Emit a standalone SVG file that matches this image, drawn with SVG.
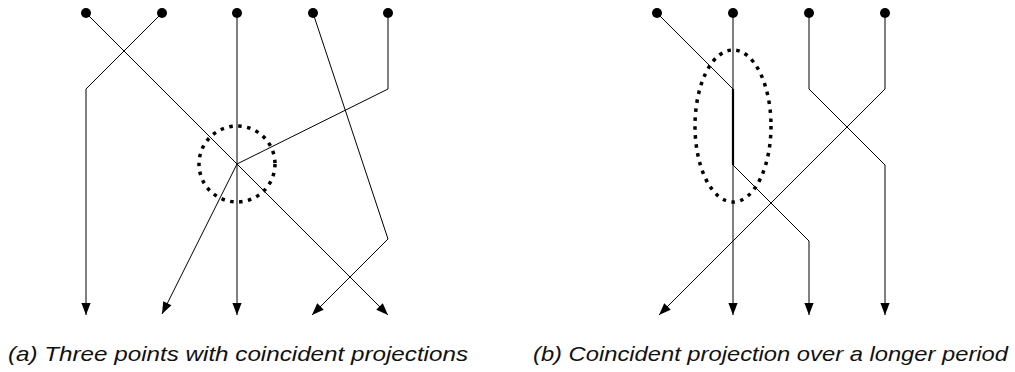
<svg xmlns="http://www.w3.org/2000/svg" width="1015" height="372" viewBox="0 0 1015 372">
  <style>
    .dot { fill: #000; }
    .edge { fill: none; stroke: #000; stroke-width: 1; marker-end: url(#arrow); }
    .shared { fill: none; stroke: #000; stroke-width: 2.2; }
    .hl { fill: none; stroke: #000; stroke-width: 3.5; stroke-dasharray: 3.5 5.5; }
    .cap { font-family: "Liberation Sans", "DejaVu Sans", sans-serif; font-style: italic; font-size: 21px; fill: #111; }
  </style>
  <defs>
    <marker id="arrow" markerUnits="userSpaceOnUse" viewBox="-13 -5 14 10" markerWidth="14" markerHeight="10" refX="0" refY="0" orient="auto">
      <path d="M0,0 L-12,-4.6 L-12,4.6 Z" fill="#000"/>
    </marker>
  </defs>
  <rect width="1015" height="372" fill="#fff"/>

  <!-- (a) trajectories meeting in one point -->
  <g id="connectors-a">
    <polyline class="edge" points="86,13 388,315"/>
    <polyline class="edge" points="162,13 86,89 86,315"/>
    <polyline class="edge" points="237,13 237,315"/>
    <polyline class="edge" points="313,13 388,239 312,315"/>
    <polyline class="edge" points="388,13 388,89 237,164 162,314"/>
  </g>
  <g id="highlight-a">
    <circle class="hl" cx="237" cy="164" r="38"/>
  </g>
  <g id="nodes-a">
    <g id="a1"><circle class="dot" cx="86" cy="13" r="5"/></g>
    <g id="a2"><circle class="dot" cx="162" cy="13" r="5"/></g>
    <g id="a3"><circle class="dot" cx="237" cy="13" r="5"/></g>
    <g id="a4"><circle class="dot" cx="313" cy="13" r="5"/></g>
    <g id="a5"><circle class="dot" cx="388" cy="13" r="5"/></g>
  </g>

  <!-- (b) trajectories sharing a segment -->
  <g id="connectors-b">
    <polyline class="edge" points="657,13 733,89 733,165 809,241 809,315"/>
    <polyline class="edge" points="733,13 733,315"/>
    <polyline class="edge" points="809,13 809,89 885,165 885,315"/>
    <polyline class="edge" points="885,13 885,89 659,315"/>
    <line class="shared" x1="733" y1="89" x2="733" y2="165"/>
  </g>
  <g id="highlight-b">
    <ellipse class="hl" cx="733" cy="126" rx="38" ry="76"/>
  </g>
  <g id="nodes-b">
    <g id="b1"><circle class="dot" cx="657" cy="13" r="5"/></g>
    <g id="b2"><circle class="dot" cx="733" cy="13" r="5"/></g>
    <g id="b3"><circle class="dot" cx="809" cy="13" r="5"/></g>
    <g id="b4"><circle class="dot" cx="885" cy="13" r="5"/></g>
  </g>

  <!-- captions -->
  <text class="cap" x="8" y="361" textLength="460" lengthAdjust="spacingAndGlyphs">(a) Three points with coincident projections</text>
  <text class="cap" x="533" y="361" textLength="475" lengthAdjust="spacingAndGlyphs">(b) Coincident projection over a longer period</text>
</svg>
